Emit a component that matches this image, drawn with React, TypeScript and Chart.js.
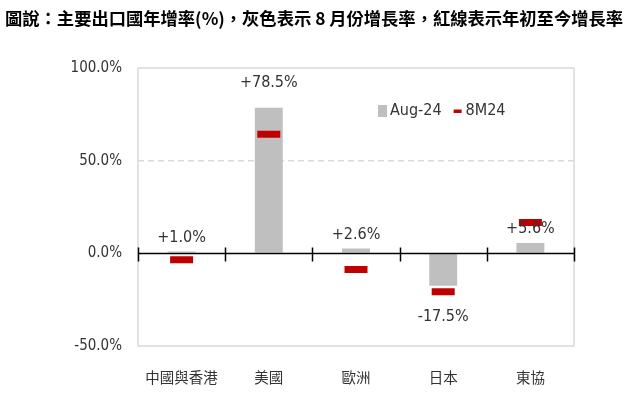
import React, { useEffect, useRef } from 'react';
import { Chart, registerables } from 'chart.js';

Chart.register(...registerables);

const TITLE = '圖說：主要出口國年增率(%)，灰色表示 8 月份增長率，紅線表示年初至今增長率';
const categories = ['中國與香港', '美國', '歐洲', '日本', '東協'];
const seriesNames = ['Aug-24', '8M24'];
const aug24 = [1.0, 78.5, 2.6, -17.5, 5.6];
const ytd8m24 = [-3.5, 64.2, -8.7, -20.7, 16.6];
const yMin = -50;
const yMax = 100;
const yStep = 50;

const NUM_FONT = '"DejaVu Sans Condensed", "Liberation Sans", Arial, sans-serif';
const TEXT_COLOR = '#333333';
const GREY = '#BFBFBF';
const RED = '#C00000';

const fmtPct = (v: number) => (v > 0 ? '+' : '') + v.toFixed(1) + '%';

const overlayPlugin = {
  id: 'overlay',
  afterDatasetsDraw(chart: any) {
    const { ctx, chartArea: a, scales } = chart;
    const x = scales.x;
    const y = scales.y;
    ctx.save();
    // plot border
    ctx.strokeStyle = '#D9D9D9';
    ctx.lineWidth = 1.5;
    ctx.strokeRect(a.left, a.top, a.right - a.left, a.bottom - a.top);
    // zero axis with category tick marks
    const y0 = Math.round(y.getPixelForValue(0)) + 0.5;
    ctx.strokeStyle = '#000000';
    ctx.lineWidth = 1.5;
    ctx.beginPath();
    ctx.moveTo(a.left, y0);
    ctx.lineTo(a.right, y0);
    const n = categories.length;
    for (let i = 0; i <= n; i++) {
      const px = Math.round(a.left + ((a.right - a.left) * i) / n) + 0.5;
      ctx.moveTo(px, y0 - 6);
      ctx.lineTo(px, y0 + 8);
    }
    ctx.stroke();

    // data labels for Aug-24
    ctx.font = '16px ' + NUM_FONT;
    ctx.fillStyle = TEXT_COLOR;
    ctx.textAlign = 'center';
    ctx.textBaseline = 'middle';
    aug24.forEach((v, i) => {
      const px = x.getPixelForValue(i);
      const py = y.getPixelForValue(v);
      const ly = v >= 0 ? py - (i === 1 ? 25 : 14) : py + 31;
      ctx.fillText(fmtPct(v), px, ly);
    });

    // legend inside plot
    const lx = a.left + 240;
    const ly = a.top + 43;
    ctx.fillStyle = GREY;
    ctx.fillRect(lx, ly - 6, 9, 12);
    ctx.fillStyle = TEXT_COLOR;
    ctx.textAlign = 'left';
    ctx.fillText(seriesNames[0], lx + 12, ly);
    const w = ctx.measureText(seriesNames[0]).width;
    const rx = lx + 12 + w + 12;
    ctx.fillStyle = RED;
    ctx.fillRect(rx, ly - 1.5, 8, 3.5);
    ctx.fillStyle = TEXT_COLOR;
    ctx.fillText(seriesNames[1], rx + 12, ly);
    ctx.restore();
  },
};

export default function App() {
  const ref = useRef<HTMLCanvasElement | null>(null);

  useEffect(() => {
    if (!ref.current) return;
    const chart = new Chart(ref.current, {
      type: 'bar',
      data: {
        labels: categories,
        datasets: [
          {
            type: 'bar',
            label: seriesNames[0],
            data: aug24,
            backgroundColor: GREY,
            borderWidth: 0,
            barPercentage: 0.32,
            categoryPercentage: 1,
            order: 2,
          } as any,
          {
            type: 'line',
            label: seriesNames[1],
            data: ytd8m24,
            showLine: false,
            pointStyle: 'line',
            pointRadius: 11.5,
            pointHoverRadius: 11.5,
            pointBorderWidth: 7,
            pointHoverBorderWidth: 7,
            pointBorderColor: RED,
            pointBackgroundColor: RED,
            borderColor: RED,
            order: 1,
          } as any,
        ],
      },
      options: {
        responsive: false,
        animation: false,
        events: [],
        layout: { padding: { left: 0, right: 57, top: 68, bottom: 0 } },
        plugins: {
          legend: { display: false },
          tooltip: { enabled: false },
          title: { display: false },
        },
        scales: {
          x: {
            grid: { display: false, drawTicks: false },
            border: { display: false },
            ticks: {
              color: TEXT_COLOR,
              padding: 23,
              font: { family: '"Noto Sans CJK TC", sans-serif', size: 14.5 },
            },
            afterFit: (s: any) => {
              s.height = 57;
            },
          },
          y: {
            min: yMin,
            max: yMax,
            grid: {
              drawTicks: false,
              color: (c: any) => (c.tick && c.tick.value === 50 ? '#D9D9D9' : 'rgba(0,0,0,0)'),
              lineWidth: 1.5,
            },
            border: { display: false, dash: [6, 4] },
            ticks: {
              stepSize: yStep,
              color: TEXT_COLOR,
              padding: 16,
              font: { family: NUM_FONT, size: 15 },
              callback: (v: any) => Number(v).toFixed(1) + '%',
            },
            afterFit: (s: any) => {
              s.width = 138;
            },
          },
        },
      },
      plugins: [overlayPlugin],
    });
    return () => chart.destroy();
  }, []);

  return (
    <div style={{ position: 'absolute', left: 0, top: 0, width: 631, height: 403, background: '#fff' }}>
      <canvas ref={ref} width={631} height={403} style={{ position: 'absolute', left: 0, top: 0 }} />
      <div
        style={{
          position: 'absolute',
          left: 5,
          top: 7,
          fontFamily: '"Noto Sans CJK TC", sans-serif',
          fontWeight: 'bold',
          fontSize: 17.3,
          lineHeight: '22px',
          color: '#000',
          whiteSpace: 'nowrap',
        }}
      >
        {TITLE}
      </div>
    </div>
  );
}
